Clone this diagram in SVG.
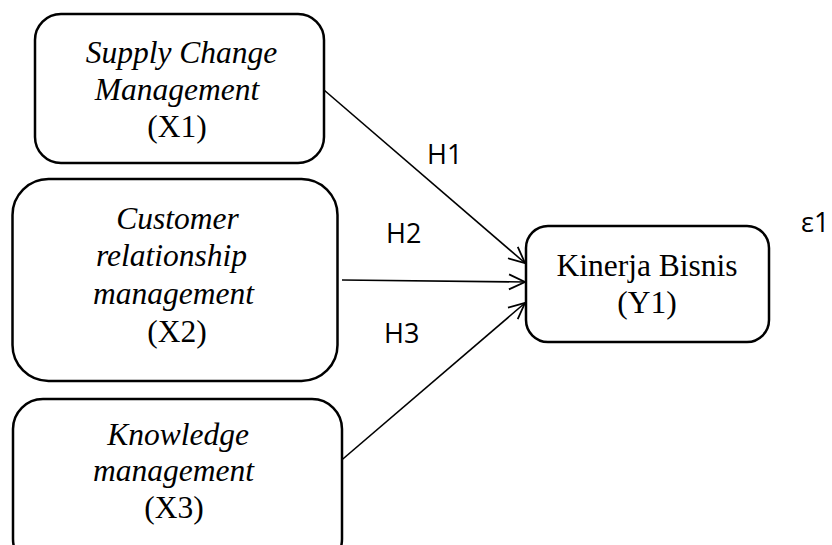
<svg xmlns="http://www.w3.org/2000/svg" width="832" height="545" viewBox="0 0 832 545">
<style>
.box{fill:#fff;stroke:#000;stroke-width:2.5}
.t{font-family:"Liberation Serif","Times New Roman",serif;font-size:31.5px;fill:#000;text-anchor:middle}
.i{font-style:italic}
.lbl{font-family:"Open Sans","Liberation Sans",sans-serif;font-size:27px;fill:#000}
.c{stroke:#000;stroke-width:1.6;fill:none}
</style>
<defs>
<marker id="arr" markerUnits="userSpaceOnUse" markerWidth="20" markerHeight="20" viewBox="-17 -10 20 20" refX="0" refY="0" orient="auto">
<path d="M-16,-7.5 L0,0 L-16,7.5" fill="none" stroke="#000" stroke-width="1.8"/>
</marker>
</defs>
<rect width="832" height="545" fill="#fff"/>
<g id="connectors">
<line class="c" x1="324" y1="90" x2="525" y2="263" marker-end="url(#arr)"/>
<line class="c" x1="342" y1="280" x2="525" y2="282" marker-end="url(#arr)"/>
<line class="c" x1="337" y1="464" x2="525" y2="303" marker-end="url(#arr)"/>
<text class="lbl" x="427" y="164">H1</text>
<text class="lbl" x="386" y="243">H2</text>
<text class="lbl" x="384" y="343">H3</text>
</g>
<g id="x1">
<rect class="box" x="35" y="14" width="289" height="149" rx="26"/>
<text class="t i" x="181.5" y="63">Supply Change</text>
<text class="t i" x="177" y="100">Management</text>
<text class="t" x="177" y="137">(X1)</text>
</g>
<g id="x2">
<rect class="box" x="12.5" y="179" width="325" height="202" rx="36"/>
<text class="t i" x="177.5" y="229">Customer</text>
<text class="t i" x="171.5" y="266">relationship</text>
<text class="t i" x="173.5" y="304">management</text>
<text class="t" x="177" y="342">(X2)</text>
</g>
<g id="x3">
<rect class="box" x="13" y="399" width="329" height="170" rx="30"/>
<text class="t i" x="178" y="445">Knowledge</text>
<text class="t i" x="173.5" y="481">management</text>
<text class="t" x="174" y="518">(X3)</text>
</g>
<g id="y1">
<rect class="box" x="526" y="226" width="243" height="116" rx="22"/>
<text class="t" x="647" y="276">Kinerja Bisnis</text>
<text class="t" x="647" y="313">(Y1)</text>
</g>
<g id="e1">
<text class="lbl" x="801" y="232">ε1</text>
</g>
</svg>
